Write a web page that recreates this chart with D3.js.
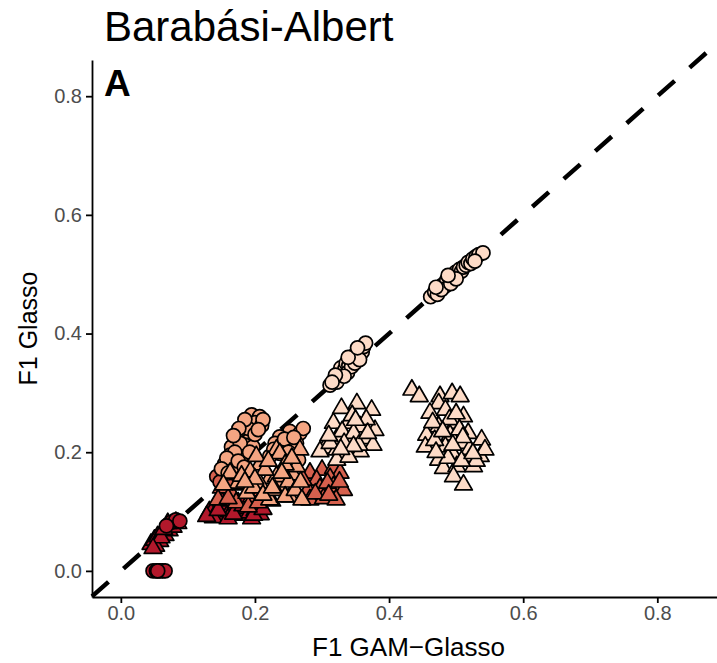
<!DOCTYPE html>
<html>
<head>
<meta charset="utf-8">
<script src="https://cdn.jsdelivr.net/npm/d3@7"></script>
<style>
  body { margin: 0; background: #fff; }
  svg { display: block; font-family: "Liberation Sans", Arial, Helvetica, sans-serif; }
  .tick text { fill: #4d4d4d; font-size: 20px; }
  .tick line, .domain { stroke: #000; stroke-width: 1.8px; }
</style>
</head>
<body>
<div id="chart"></div>
<script>
// ===== Config =====
const WIDTH = 717, HEIGHT = 663;
const P = { left: 92, right: 717, top: 60, bottom: 597 };

const TITLE = "Barabási-Albert";
const PANEL = "A";
const X_LABEL = "F1 GAM\u2212Glasso";
const Y_LABEL = "F1 Glasso";

const xTicks = [0, 0.2, 0.4, 0.6, 0.8];
const yTicks = [0, 0.2, 0.4, 0.6, 0.8];

// fill per level, lightest to darkest
const levelColors = ["#fddbc7", "#f4a582", "#d6604d", "#b2182b"];

// ===== Data: [F1 GAM-Glasso, F1 Glasso] =====
// level 1
const circlesL1 = [
  [0.312,0.313],[0.318,0.322],[0.322,0.318],[0.325,0.330],[0.330,0.335],[0.328,0.342],
  [0.334,0.340],[0.336,0.350],[0.340,0.346],[0.342,0.356],[0.345,0.352],[0.347,0.362],
  [0.350,0.358],[0.352,0.368],[0.355,0.364],[0.357,0.372],[0.360,0.369],[0.362,0.378],
  [0.365,0.384],[0.338,0.334],[0.344,0.344],[0.333,0.328],[0.349,0.350],[0.356,0.356],
  [0.320,0.330],[0.339,0.360],[0.353,0.376],[0.315,0.318],
  [0.462,0.462],[0.468,0.470],[0.472,0.466],[0.476,0.478],[0.480,0.482],[0.484,0.480],
  [0.486,0.490],[0.490,0.494],[0.493,0.488],[0.496,0.498],[0.499,0.503],[0.502,0.500],
  [0.505,0.508],[0.508,0.505],[0.511,0.512],[0.515,0.515],[0.518,0.520],[0.522,0.518],
  [0.525,0.526],[0.530,0.530],[0.534,0.533],[0.478,0.474],[0.492,0.484],[0.500,0.492],
  [0.488,0.498],[0.540,0.536],[0.528,0.522],[0.470,0.478]
];
const trianglesL1 = [
  [0.329,0.274],[0.352,0.282],[0.374,0.271],[0.317,0.249],[0.339,0.249],[0.357,0.243],
  [0.379,0.237],[0.322,0.223],[0.342,0.221],[0.364,0.223],[0.376,0.212],[0.304,0.207],
  [0.322,0.204],[0.337,0.198],[0.357,0.201],[0.297,0.201],[0.322,0.187],[0.330,0.235],
  [0.347,0.232],[0.312,0.215],[0.355,0.212],[0.345,0.262],[0.366,0.255],[0.340,0.192],
  [0.350,0.254],[0.333,0.215],[0.368,0.232],[0.310,0.228],[0.347,0.210],[0.328,0.205],
  [0.434,0.305],[0.445,0.294],[0.476,0.294],[0.494,0.299],[0.506,0.294],[0.474,0.282],
  [0.461,0.266],[0.484,0.271],[0.511,0.260],[0.499,0.249],[0.474,0.243],[0.456,0.229],
  [0.491,0.229],[0.518,0.232],[0.538,0.221],[0.454,0.209],[0.484,0.209],[0.511,0.215],
  [0.496,0.195],[0.516,0.193],[0.536,0.193],[0.543,0.204],[0.474,0.187],[0.481,0.173],
  [0.501,0.176],[0.526,0.176],[0.496,0.159],[0.511,0.145],[0.490,0.255],[0.505,0.238],
  [0.468,0.220],[0.520,0.205],[0.488,0.190],[0.530,0.185],[0.465,0.250],[0.500,0.265],
  [0.480,0.235],[0.510,0.225],[0.495,0.212],[0.470,0.200],[0.508,0.185],[0.525,0.198]
];
// level 2
const circlesL2 = [
  [0.195,0.263],[0.207,0.260],[0.188,0.249],[0.182,0.235],[0.173,0.223],[0.193,0.223],
  [0.165,0.209],[0.185,0.212],[0.197,0.209],[0.163,0.195],[0.180,0.193],[0.155,0.181],
  [0.168,0.176],[0.200,0.250],[0.210,0.245],[0.190,0.240],[0.178,0.215],[0.170,0.200],
  [0.158,0.190],[0.150,0.172],[0.160,0.165],[0.175,0.185],[0.200,0.230],[0.212,0.255],
  [0.185,0.255],[0.176,0.240],[0.168,0.228],[0.205,0.238],[0.192,0.200],[0.184,0.175],
  [0.252,0.235],[0.267,0.232],[0.237,0.226],[0.230,0.215],[0.247,0.212],[0.262,0.215],
  [0.237,0.198],[0.257,0.195],[0.222,0.193],[0.265,0.187],[0.272,0.240],[0.244,0.222],
  [0.258,0.225],[0.228,0.205],[0.250,0.200]
];
const trianglesL2 = [
  [0.207,0.179],[0.232,0.204],[0.247,0.179],[0.222,0.156],[0.237,0.142],[0.257,0.162],
  [0.207,0.148],[0.193,0.167],[0.175,0.148],[0.163,0.165],[0.153,0.145],[0.188,0.131],
  [0.222,0.120],[0.252,0.125],[0.262,0.176],[0.267,0.204],[0.202,0.193],[0.237,0.198],
  [0.245,0.179],[0.232,0.159],[0.250,0.150],[0.230,0.136],[0.245,0.125],[0.260,0.136],
  [0.215,0.170],[0.180,0.160],[0.198,0.140],[0.268,0.150],[0.270,0.120],[0.212,0.128],
  [0.220,0.185],[0.240,0.165],[0.200,0.155],[0.255,0.190],[0.226,0.140],[0.185,0.150]
];
// level 3
const circlesL3 = [[0.143,0.159],[0.148,0.150]];
const trianglesL3 = [
  [0.282,0.165],[0.300,0.170],[0.317,0.173],[0.327,0.165],[0.292,0.153],[0.312,0.156],
  [0.279,0.136],[0.297,0.139],[0.317,0.142],[0.332,0.136],[0.282,0.120],[0.302,0.122],
  [0.321,0.120],[0.272,0.153],[0.290,0.130],[0.308,0.148],[0.326,0.150],[0.310,0.128],
  [0.150,0.140],[0.165,0.130],[0.180,0.145],[0.195,0.125],[0.172,0.115],[0.145,0.120],
  [0.190,0.108],[0.210,0.135],[0.158,0.152],[0.225,0.118],[0.160,0.122],[0.205,0.115]
];
// level 4
const circlesL4 = [
  [0.075,0.082],[0.082,0.086],[0.088,0.084],[0.068,0.076],
  [0.048,0],[0.053,0],[0.058,0],[0.062,0],[0.066,0],[0.055,0]
];
const trianglesL4 = [
  [0.132,0.100],[0.140,0.108],[0.148,0.095],[0.155,0.112],[0.162,0.100],[0.170,0.108],
  [0.178,0.094],[0.185,0.105],[0.192,0.098],[0.200,0.102],[0.208,0.095],[0.138,0.090],
  [0.160,0.088],[0.175,0.115],[0.195,0.088],[0.150,0.118],[0.128,0.092],[0.145,0.102],
  [0.168,0.096],[0.182,0.110],[0.198,0.094],[0.212,0.104],
  [0.045,0.045],[0.050,0.052],[0.055,0.058],[0.058,0.050],[0.062,0.065],[0.066,0.060],
  [0.068,0.072],[0.072,0.068],[0.075,0.078],[0.078,0.074],[0.082,0.082],[0.085,0.080],
  [0.052,0.042],[0.070,0.080],[0.060,0.056],[0.064,0.070],[0.048,0.038]
];

// ===== Scales =====
const x = d3.scaleLinear().domain([-0.043, 0.889]).range([P.left, P.right]);
const y = d3.scaleLinear().domain([-0.044, 0.861]).range([P.bottom, P.top]);

const svg = d3.select("#chart").append("svg")
  .attr("width", WIDTH).attr("height", HEIGHT);

// identity reference line
const diag = x.domain();
svg.append("line")
  .attr("x1", x(diag[0])).attr("y1", y(diag[0]))
  .attr("x2", x(diag[1])).attr("y2", y(diag[1]))
  .attr("stroke", "#000").attr("stroke-width", 4.5)
  .attr("stroke-dasharray", "22,20");

// ===== Points (darkest drawn first) =====
const layers = [
  { pts: trianglesL4, shape: "tri", lvl: 3 }, { pts: circlesL4, shape: "circ", lvl: 3 },
  { pts: trianglesL3, shape: "tri", lvl: 2 }, { pts: circlesL3, shape: "circ", lvl: 2 },
  { pts: circlesL2, shape: "circ", lvl: 1 }, { pts: trianglesL2, shape: "tri", lvl: 1 },
  { pts: trianglesL1, shape: "tri", lvl: 0 }, { pts: circlesL1, shape: "circ", lvl: 0 }
];
const triPath = d3.symbol().type(d3.symbolTriangle).size(135)();
const plot = svg.append("g");
layers.forEach(L => {
  const g = plot.append("g")
    .attr("fill", levelColors[L.lvl]).attr("stroke", "#000").attr("stroke-width", 1.7);
  if (L.shape === "circ") {
    g.selectAll("circle").data(L.pts).join("circle")
      .attr("cx", d => x(d[0])).attr("cy", d => y(d[1])).attr("r", 7);
  } else {
    g.selectAll("path").data(L.pts).join("path")
      .attr("d", triPath)
      .attr("stroke-linejoin", "round")
      .attr("transform", d => `translate(${x(d[0])},${y(d[1])})`);
  }
});

// ===== Axes =====
const fmt = d3.format(".1f");
svg.append("g").attr("transform", `translate(0,${P.bottom})`)
  .call(d3.axisBottom(x).tickValues(xTicks).tickFormat(fmt).tickSize(6).tickPadding(3).tickSizeOuter(0));
svg.append("g").attr("transform", `translate(${P.left},0)`)
  .call(d3.axisLeft(y).tickValues(yTicks).tickFormat(fmt).tickSize(6).tickPadding(4).tickSizeOuter(0));

svg.append("text").attr("x", (P.left + P.right) / 2 + 4).attr("y", 656)
  .attr("text-anchor", "middle").attr("font-size", 26).text(X_LABEL);
svg.append("text")
  .attr("transform", `translate(37,${(P.top + P.bottom) / 2}) rotate(-90)`)
  .attr("text-anchor", "middle").attr("font-size", 25).text(Y_LABEL);

svg.append("text").attr("x", 104).attr("y", 41).attr("font-size", 42).text(TITLE);
svg.append("text").attr("x", 104).attr("y", 96).attr("font-size", 37)
  .attr("font-weight", "bold").text(PANEL);
</script>
</body>
</html>
